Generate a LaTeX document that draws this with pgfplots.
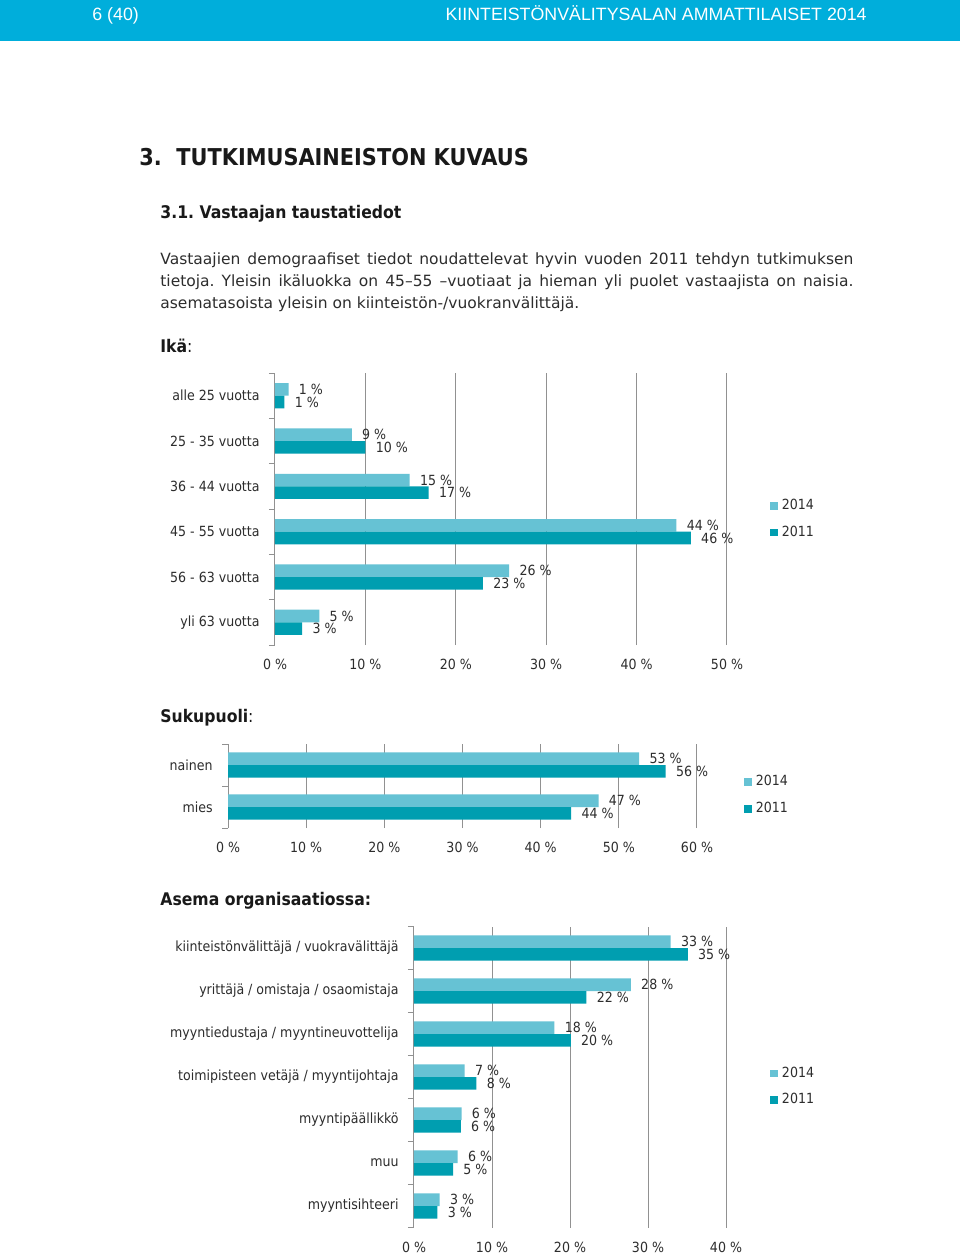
\documentclass[border=0pt]{standalone}
\usepackage{fontspec}
\setmainfont{DejaVu Sans}
\newfontfamily\tah[FakeStretch=0.9]{DejaVu Sans}
\newfontfamily\chartfont[FakeStretch=0.9]{DejaVu Sans}
\newfontfamily\headfont{Liberation Sans}
\usepackage{pgfplots}
\pgfplotsset{compat=1.18}
\definecolor{hdr}{RGB}{0,174,219}
\definecolor{c14}{RGB}{102,194,212}
\definecolor{c11}{RGB}{0,158,176}
\definecolor{gridc}{RGB}{145,145,145}
\definecolor{txt}{RGB}{45,45,45}
\newcommand\cf{\chartfont\fontsize{7}{8}\selectfont}
\pgfplotsset{
 chartbase/.style={
  xbar, scale only axis, anchor=south west,
  bar width=6.3pt,
  axis line style={draw=none},
  xmin=0, ymin=-0.5,
  xmajorgrids, major grid style={gridc, line width=0.5pt},
  xtick style={draw=none},
  ytick pos=left,
  major tick length=0pt,
  minor tick length=3pt,
  tick align=outside,
  minor tick style={gridc, line width=0.5pt},
  tick label style={font=\cf, text=txt},
  yticklabel style={inner sep=0pt, xshift=-7.5pt},
  xticklabel style={yshift=-3.6pt},
  nodes near coords,
  point meta=explicit symbolic,
  nodes near coords style={anchor=west, inner sep=0pt, xshift=5pt, font=\cf, text=txt},
  legend style={draw=none, fill=none, anchor=west, font=\cf, text=txt, row sep=2.6pt, inner sep=0pt},
  legend image code/.code={\fill[#1] (0pt,-1.9pt) rectangle (3.8pt,1.9pt);},
  legend cell align=left,
  clip=false,
 },
 p14/.style={fill=c14, draw=none, bar shift=3.15pt},
 p11/.style={fill=c11, draw=none, bar shift=-3.15pt},
}
\begin{document}
\frenchspacing
\begin{tikzpicture}[x=1pt,y=1pt]
\path[use as bounding box, fill=white] (0,0) rectangle (480,-627.5);
\fill[hdr] (0,0) rectangle (480,-20.5);
\node[anchor=base west, inner sep=0, text=white, font=\headfont\fontsize{8.9}{10}\selectfont] at (46,-10) {6 (40)};
\node[anchor=base east, inner sep=0, text=white, font=\headfont\fontsize{8.9}{10}\selectfont] at (433.5,-10) {KIINTEISTÖNVÄLITYSALAN AMMATTILAISET 2014};
% headings
\node[anchor=base west, inner sep=0, text=black!90, font=\tah\bfseries\fontsize{11.6}{13}\selectfont] at (69.5,-82.75) {3.};
\node[anchor=base west, inner sep=0, text=black!90, font=\tah\bfseries\fontsize{11.6}{13}\selectfont] at (88,-82.75) {TUTKIMUSAINEISTON KUVAUS};
\node[anchor=base west, inner sep=0, text=black!90, font=\tah\bfseries\fontsize{8.7}{10}\selectfont] at (80,-109.25) {3.1. Vastaajan taustatiedot};
% body
\begin{scope}[every node/.style={anchor=base west, inner sep=0, text=txt, font=\fontsize{7.75}{9}\selectfont}]
\node at (80,-132.25) {\makebox[346.5pt][s]{Vastaajien demograafiset tiedot noudattelevat hyvin vuoden 2011 tehdyn tutkimuksen}};
\node at (80,-143.25) {\makebox[346.5pt][s]{tietoja. Yleisin ikäluokka on 45–55 –vuotiaat ja hieman yli puolet vastaajista on naisia.}};
\node at (80,-154.25) {asematasoista yleisin on kiinteistön-/vuokranvälittäjä.};
\end{scope}
\begin{scope}[every node/.style={anchor=base west, inner sep=0, text=black!90, font=\tah\fontsize{8.7}{10}\selectfont}]
\node at (80,-176) {\textbf{Ikä}:};
\node at (80,-361) {\textbf{Sukupuoli}:};
\node at (80,-452.5) {\textbf{Asema organisaatiossa:}};
\end{scope}

% Chart 1
\begin{axis}[chartbase, at={(137.5pt,-322.5pt)}, width=226pt, height=136pt,
  xmax=50, ymax=5.5,
  xtick={0,10,20,30,40,50}, xticklabels={0 \%,10 \%,20 \%,30 \%,40 \%,50 \%},
  ytick={0,1,2,3,4,5},
  yticklabels={yli 63 vuotta,56 - 63 vuotta,45 - 55 vuotta,36 - 44 vuotta,25 - 35 vuotta,alle 25 vuotta},
  minor ytick={-0.5,0.5,1.5,2.5,3.5,4.5,5.5},
  legend style={at={(1.095,0.463)}}]
\addplot[p14] coordinates {(1.5,5) [1 \%] (8.5,4) [9 \%] (14.9,3) [15 \%] (44.4,2) [44 \%] (25.9,1) [26 \%] (4.9,0) [5 \%]};
\addplot[p11] coordinates {(1.05,5) [1 \%] (10.0,4) [10 \%] (17.0,3) [17 \%] (46.0,2) [46 \%] (23.0,1) [23 \%] (3.0,0) [3 \%]};
\legend{2014,2011}
\end{axis}

% Chart 2
\begin{axis}[chartbase, at={(114pt,-414pt)}, width=234.5pt, height=42pt,
  xmax=60, ymax=1.5,
  xtick={0,10,20,30,40,50,60}, xticklabels={0 \%,10 \%,20 \%,30 \%,40 \%,50 \%,60 \%},
  ytick={0,1}, yticklabels={mies,nainen},
  minor ytick={-0.5,0.5,1.5},
  legend style={at={(1.100,0.387)}}]
\addplot[p14] coordinates {(52.6,1) [53 \%] (47.4,0) [47 \%]};
\addplot[p11] coordinates {(56.0,1) [56 \%] (43.9,0) [44 \%]};
\legend{2014,2011}
\end{axis}

% Chart 3
\begin{axis}[chartbase, at={(207pt,-613.75pt)}, width=156pt, height=150.5pt,
  xmax=40, ymax=6.5,
  xtick={0,10,20,30,40}, xticklabels={0 \%,10 \%,20 \%,30 \%,40 \%},
  ytick={0,1,2,3,4,5,6},
  yticklabels={myyntisihteeri,muu,myyntipäällikkö,toimipisteen vetäjä / myyntijohtaja,myyntiedustaja / myyntineuvottelija,yrittäjä / omistaja / osaomistaja,kiinteistönvälittäjä / vuokravälittäjä},
  minor ytick={-0.5,0.5,1.5,2.5,3.5,4.5,5.5,6.5},
  legend style={at={(1.141,0.467)}}]
\addplot[p14] coordinates {(32.9,6) [33 \%] (27.8,5) [28 \%] (18.0,4) [18 \%] (6.5,3) [7 \%] (6.1,2) [6 \%] (5.6,1) [6 \%] (3.3,0) [3 \%]};
\addplot[p11] coordinates {(35.1,6) [35 \%] (22.1,5) [22 \%] (20.1,4) [20 \%] (8.0,3) [8 \%] (6.0,2) [6 \%] (5.0,1) [5 \%] (3.0,0) [3 \%]};
\legend{2014,2011}
\end{axis}
\end{tikzpicture}
\end{document}
